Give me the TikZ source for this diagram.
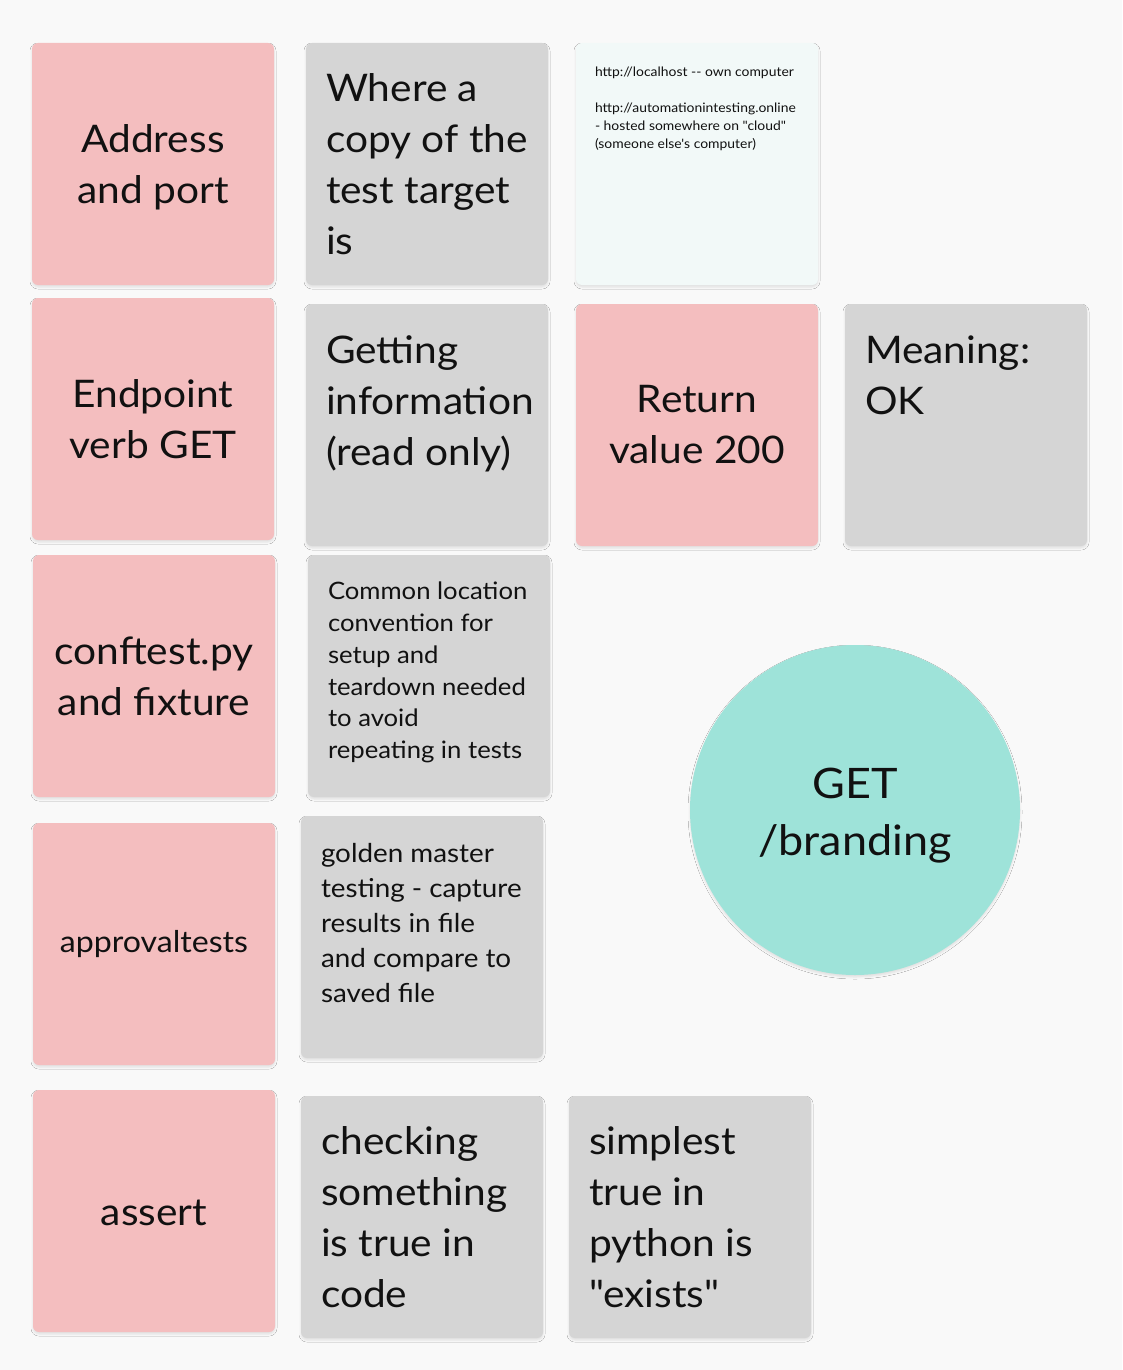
\documentclass[tikz,border=0pt]{standalone}
\usepackage{fontspec}
\setmainfont{Lato}[FakeStretch=1.07]
\newfontfamily\notefont{Lato}[Ligatures=TeXOff,FakeStretch=1.07]
\usetikzlibrary{shadows.blur}
\definecolor{bg}{HTML}{F9F9F9}
\definecolor{pinkc}{HTML}{F4BEBF}
\definecolor{grayc}{HTML}{D5D5D5}
\definecolor{notec}{HTML}{F2F9F8}
\definecolor{mintc}{HTML}{9EE3D9}
\definecolor{txtc}{HTML}{111111}
\begin{document}
\begin{tikzpicture}[x=1pt,y=-1pt,
  shd/.style={blur shadow={shadow xshift=0pt, shadow yshift=-2pt, shadow blur radius=2pt, shadow opacity=10}},
  card/.style={rectangle, rounded corners=6pt, minimum width=242pt, minimum height=242pt, inner sep=0pt, shd, text=txtc},
  pinkcard/.style={card, fill=pinkc, align=center, font=\fontsize{38}{51}\selectfont},
  graycard/.style={card, fill=grayc},
  notecard/.style={card, fill=notec},
  txt/.style={anchor=north west, inner sep=0pt, align=left, text=txtc},
  bigt/.style={txt, font=\fontsize{38}{51}\selectfont},
  midt/.style={txt, font=\fontsize{26}{35}\selectfont},
  smallt/.style={txt, font=\fontsize{24}{31.8}\selectfont},
  tinyt/.style={txt, font=\notefont\fontsize{13}{18}\selectfont}
]
\useasboundingbox (0,0) rectangle (1122,1370);
\fill[bg] (0,0) rectangle (1122,1370);

% row 1
\node[pinkcard] (b1) at (153,164) {};
\node[txt, anchor=center, align=center, font=\fontsize{38}{51}\selectfont] (t1) at ([yshift=-3pt]b1.center) {Address\\and port};
\node[graycard] (b2) at (427,164) {};
\node[bigt] (t2) at ([shift={(20,31)}]b2.north west) {Where a\\copy of the\\test target\\is};
\node[notecard] (b3) at (697,164) {};
\node[tinyt] (t3) at ([shift={(19,24)}]b3.north west) {http://localhost -{}- own computer\\[18pt]http://automationintesting.online\\- hosted somewhere on "cloud"\\(someone else's computer)};

% row 2
\node[pinkcard] (b4) at (153,419) {Endpoint\\verb GET};
\node[graycard] (b5) at (427,425) {};
\node[bigt] (t5) at ([shift={(20,32)}]b5.north west) {Getting\\information\\(read only)};
\node[pinkcard] (b6) at (697,425) {Return\\value 200};
\node[graycard] (b7) at (966,425) {};
\node[bigt] (t7) at ([shift={(20,32)}]b7.north west) {Meaning:\\OK};

% row 3
\node[pinkcard] (b8) at (154,676) {conftest.py\\and fixture};
\node[graycard] (b9) at (429,676) {};
\node[smallt] (t9) at ([shift={(20,27)}]b9.north west) {Common location\\convention for\\setup and\\teardown needed\\to avoid\\repeating in tests};

\node[circle, fill=mintc, minimum size=330pt, inner sep=0pt, shd] (c1) at (855,810) {};
\node[txt, anchor=center, align=center, font=\fontsize{42}{57}\selectfont] (tc) at ([yshift=-6pt]c1.center) {GET\\/branding};

% row 4
\node[pinkcard, font=\fontsize{30}{40}\selectfont] (b11) at (154,944) {approvaltests};
\node[graycard] (b12) at (422,937) {};
\node[midt] (t12) at ([shift={(20,27)}]b12.north west) {golden master\\testing - capture\\results in file\\and compare to\\saved file};

% row 5
\node[pinkcard] (b13) at (154,1211) {};
\node[txt, anchor=center, font=\fontsize{38}{51}\selectfont] (t13) at ([yshift=-2pt]b13.center) {assert};
\node[graycard] (b14) at (422,1217) {};
\node[bigt] (t14) at ([shift={(20,30)}]b14.north west) {checking\\something\\is true in\\code};
\node[graycard] (b15) at (690,1217) {};
\node[bigt] (t15) at ([shift={(20,30)}]b15.north west) {simplest\\true in\\python is\\{\notefont"exists"}};
\end{tikzpicture}
\end{document}
